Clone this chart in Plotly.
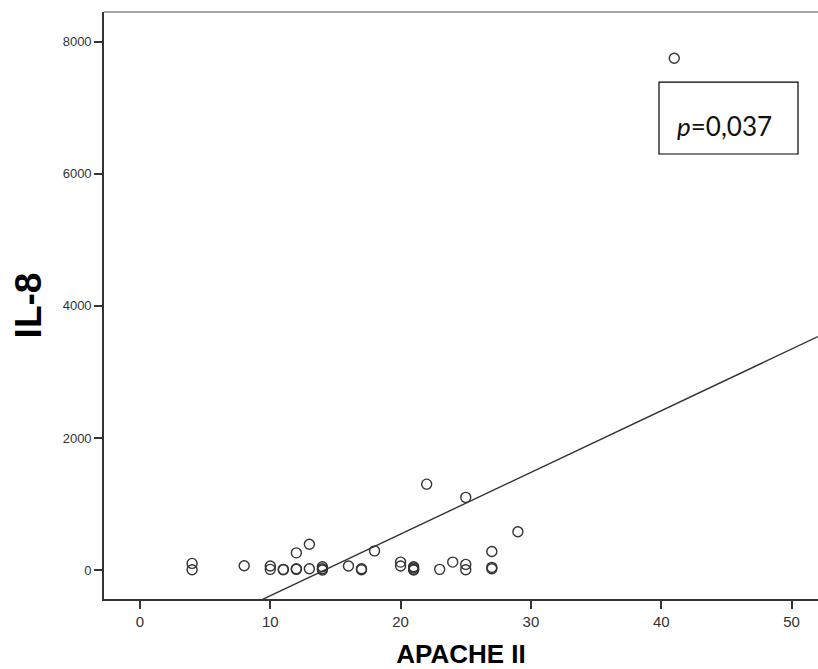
import numpy as np
import plotly.graph_objects as go

# APACHE II score vs. IL-8 concentration per patient
apache_ii = [4, 4, 8, 10, 10, 11, 11, 12, 12, 12, 13, 13, 14, 14, 14, 16, 17, 17,
             18, 20, 20, 21, 21, 21, 21, 22, 23, 24, 25, 25, 25, 27, 27, 27, 29, 41]
il_8 = [100, 5, 65, 60, 10, 10, 5, 260, 20, 10, 390, 20, 50, 20, 0, 60, 20, 5,
        290, 120, 60, 50, 30, 10, 0, 1300, 10, 120, 1100, 85, 5, 280, 40, 20, 580, 7750]

x_ticks = [0, 10, 20, 30, 40, 50]
y_ticks = [0, 2000, 4000, 6000, 8000]
p_label = "<i>p</i>=0,037"

x_range = [-2.76, 52.03]
y_range = [-439, 8450]

# least-squares line across the whole x range
slope, intercept = np.polyfit(apache_ii, il_8, 1)
fit_x = np.array(x_range)
fit_y = intercept + slope * fit_x

fig = go.Figure()
fig.add_trace(go.Scatter(
    x=fit_x, y=fit_y, mode="lines",
    line=dict(color="#333333", width=1.4),
    hoverinfo="skip", cliponaxis=True,
))
fig.add_trace(go.Scatter(
    x=apache_ii, y=il_8, mode="markers",
    marker=dict(symbol="circle-open", size=10, color="#333333",
                line=dict(width=1.4, color="#333333")),
))

# grey top border of the frame
fig.add_shape(type="line", xref="paper", yref="paper", x0=0, x1=1, y0=1, y1=1,
              line=dict(color="#8a8a8a", width=1.6))

# p-value box and its text
fig.add_shape(type="rect", xref="paper", yref="paper",
              x0=0.7773, x1=0.972, y0=0.7581, y1=0.8807,
              line=dict(color="#000000", width=1.2), fillcolor="white")
fig.add_annotation(
    xref="paper", yref="paper", x=0.8690, y=0.806, xanchor="center", yanchor="middle",
    text=p_label, showarrow=False,
    font=dict(family="Lato, Open Sans, sans-serif", size=26, color="#111111"),
)

fig.update_layout(
    width=818, height=669,
    margin=dict(l=104, r=0, t=12, b=70),
    paper_bgcolor="white", plot_bgcolor="white",
    showlegend=False,
)
fig.update_xaxes(
    range=x_range, tickvals=x_ticks, ticktext=[str(v) for v in x_ticks],
    showgrid=False, zeroline=False,
    showline=True, linecolor="#333333", linewidth=1.6,
    ticks="outside", ticklen=8, tickwidth=1.6, tickcolor="#333333",
    tickfont=dict(family="Liberation Sans Narrow, Arial Narrow, Liberation Sans, sans-serif",
                  size=15, color="#333333"),
    title=dict(text="<b>APACHE II</b>", standoff=22,
               font=dict(family="Liberation Sans Narrow, Arial Narrow, Liberation Sans, sans-serif",
                         size=26, color="#000000")),
)
fig.update_yaxes(
    range=y_range, tickvals=y_ticks, ticktext=[str(v) for v in y_ticks],
    showgrid=False, zeroline=False,
    showline=True, linecolor="#333333", linewidth=1.6,
    ticks="outside", ticklen=8, tickwidth=1.6, tickcolor="#333333",
    tickfont=dict(family="Liberation Sans, Arial, sans-serif", size=13, color="#333333"),
    title=dict(text="<b>IL-8</b>", standoff=10,
               font=dict(family="Liberation Sans, Arial, sans-serif", size=37, color="#000000")),
)

fig.write_html("out.html")
